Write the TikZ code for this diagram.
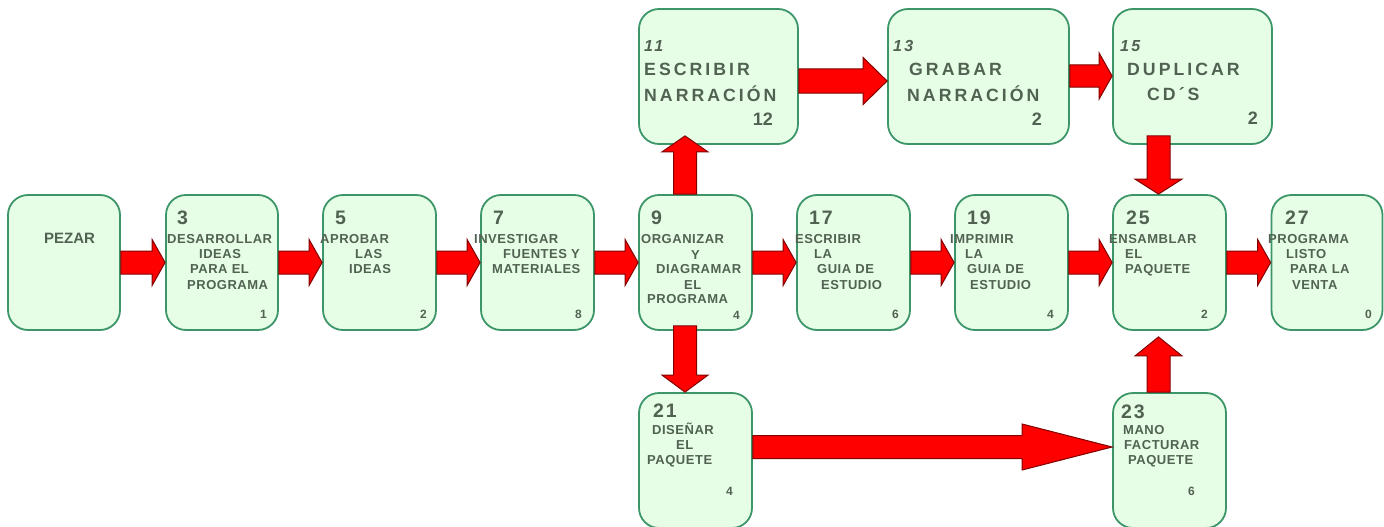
\documentclass[tikz,border=0pt]{standalone}
\usepackage{fontspec}
\setmainfont{Liberation Sans}
\newfontfamily\spacedA[LetterSpace=4]{Liberation Sans}
\newfontfamily\spacedB[LetterSpace=9]{Liberation Sans}
\newfontfamily\spacedC[LetterSpace=17]{Liberation Sans}
\newfontfamily\spacedD[LetterSpace=15]{Liberation Sans}
\usetikzlibrary{calc}

\definecolor{boxfill}{RGB}{230,253,230}
\definecolor{boxline}{RGB}{60,150,105}
\definecolor{txtcol}{RGB}{82,98,82}
\definecolor{arrfill}{RGB}{255,0,0}
\definecolor{arrline}{RGB}{130,0,0}

\tikzset{
  task/.style={draw=boxline, fill=boxfill, line width=1.8pt, rounded corners=20pt,
    minimum height=135pt, inner sep=0pt},
  blockarr/.style={draw=arrline, fill=arrfill, line width=1pt, line join=miter},
  txtline/.style={inner sep=0pt, anchor=base west, text=txtcol,
    font=\spacedA\bfseries\fontsize{13}{13}\selectfont},
  stepnum/.style={inner sep=0pt, anchor=base west, text=txtcol,
    font=\spacedB\bfseries\fontsize{19.5}{19.5}\selectfont},
  count/.style={inner sep=0pt, anchor=base east, text=txtcol,
    font=\bfseries\fontsize{12}{12}\selectfont},
  bigline/.style={inner sep=0pt, anchor=base west, text=txtcol,
    font=\spacedC\bfseries\fontsize{17.7}{17.7}\selectfont},
  topnum/.style={inner sep=0pt, anchor=base west, text=txtcol,
    font=\spacedD\bfseries\itshape\fontsize{16}{16}\selectfont},
  topcount/.style={inner sep=0pt, anchor=base east, text=txtcol,
    font=\bfseries\fontsize{18}{18}\selectfont},
}

% block arrow: tail, tip, shaft half width, head half width, head length
\newcommand\blockarrow[5]{%
  \coordinate (hb) at ($(#2)!#5!(#1)$);
  \draw[blockarr] ($(#1)!#3!90:(#2)$) -- ($(hb)!#3!-90:(#1)$) -- ($(hb)!#4!-90:(#1)$)
    -- (#2) -- ($(hb)!#4!90:(#1)$) -- ($(hb)!#3!90:(#1)$) -- ($(#1)!#3!-90:(#2)$) -- cycle;
}
% one line of text: style, name, x, baseline y, text
\newcommand\putline[5]{\node[#1] (#2) at (#3,#4) {#5};}

\begin{document}
\begin{tikzpicture}[x=1pt, y=-1pt]
\useasboundingbox (0,0) rectangle (1384,527);

% ---- activity boxes ----
\node[task, minimum width=112pt] (b1)  at (64,262.5) {};
\node[task, minimum width=112pt] (b3)  at (222,262.5) {};
\node[task, minimum width=113pt] (b5)  at (379.5,262.5) {};
\node[task, minimum width=113pt] (b7)  at (537.5,262.5) {};
\node[task, minimum width=113pt] (b9)  at (695.5,262.5) {};
\node[task, minimum width=113pt] (b17) at (853.5,262.5) {};
\node[task, minimum width=113pt] (b19) at (1011.5,262.5) {};
\node[task, minimum width=113pt] (b25) at (1169.5,262.5) {};
\node[task, minimum width=111pt] (b27) at (1327,262.5) {};
\node[task, minimum width=159pt] (b11) at (718.5,76.5) {};
\node[task, minimum width=181pt] (b13) at (978.5,76.5) {};
\node[task, minimum width=159pt] (b15) at (1192.5,76.5) {};
\node[task, minimum width=113pt] (b21) at (695.5,460.5) {};
\node[task, minimum width=113pt] (b23) at (1169.5,460.5) {};

% ---- arrows ----
\blockarrow{b1.east}{b3.west}{11.5pt}{23pt}{13pt}
\blockarrow{b3.east}{b5.west}{11.5pt}{23pt}{13pt}
\blockarrow{b5.east}{b7.west}{11.5pt}{23pt}{13pt}
\blockarrow{b7.east}{b9.west}{11.5pt}{23pt}{13pt}
\blockarrow{b9.east}{b17.west}{11.5pt}{23pt}{13pt}
\blockarrow{b17.east}{b19.west}{11.5pt}{23pt}{13pt}
\blockarrow{b19.east}{b25.west}{11.5pt}{23pt}{13pt}
\blockarrow{b25.east}{b27.west}{11.5pt}{23pt}{13pt}

\coordinate (u9)  at ($(b9.north)+(-10.5,0)$);
\coordinate (u11) at ($(u9 |- b11.south)+(0,-9)$);
\blockarrow{u9}{u11}{11.5pt}{23pt}{16pt}

\coordinate (d9)  at ($(b9.south)+(-10.5,-5)$);
\coordinate (d21) at (d9 |- b21.north);
\blockarrow{d9}{d21}{11.5pt}{23pt}{17pt}

\coordinate (r11) at ($(b11.east)+(0,4.5)$);
\coordinate (l13) at (b13.west |- r11);
\blockarrow{r11}{l13}{12pt}{23.5pt}{24pt}

\coordinate (r13) at ($(b13.east)+(0,-0.5)$);
\coordinate (l15) at (b15.west |- r13);
\blockarrow{r13}{l15}{11pt}{23pt}{13pt}

\coordinate (d15) at ($(b15.south)+(-34,-9)$);
\coordinate (t25) at (d15 |- b25.north);
\blockarrow{d15}{t25}{11.5pt}{23.5pt}{15pt}

\coordinate (r21) at ($(b21.east)+(0,-13.5)$);
\coordinate (l23) at (b23.west |- r21);
\blockarrow{r21}{l23}{11.5pt}{23pt}{90pt}

\coordinate (u23) at ($(b23.north)+(-11,0)$);
\coordinate (s25) at ($(u23 |- b25.south)+(0,6)$);
\blockarrow{u23}{s25}{11.5pt}{23.5pt}{19pt}

% ---- texts: middle row ----
\putline{txtline, font=\bfseries\fontsize{15}{15}\selectfont}{t1a}{44}{243}{PEZAR}

\putline{stepnum}{n3}{177}{224}{3}
\putline{txtline}{t3a}{167}{243}{DESARROLLAR}
\putline{txtline}{t3b}{199}{258}{IDEAS}
\putline{txtline}{t3c}{190}{273}{PARA EL}
\putline{txtline}{t3d}{187}{289}{PROGRAMA}
\putline{count}{c3}{267}{318}{1}

\putline{stepnum}{n5}{335}{224}{5}
\putline{txtline}{t5a}{320}{243}{APROBAR}
\putline{txtline}{t5b}{355}{258}{LAS}
\putline{txtline}{t5c}{349}{273}{IDEAS}
\putline{count}{c5}{427}{318}{2}

\putline{stepnum}{n7}{493}{224}{7}
\putline{txtline}{t7a}{474}{243}{INVESTIGAR}
\putline{txtline}{t7b}{503}{258}{FUENTES Y}
\putline{txtline}{t7c}{492}{273}{MATERIALES}
\putline{count}{c7}{582}{318}{8}

\putline{stepnum}{n9}{651}{224}{9}
\putline{txtline}{t9a}{641}{243}{ORGANIZAR}
\putline{txtline}{t9b}{691}{259}{Y}
\putline{txtline}{t9c}{656}{273}{DIAGRAMAR}
\putline{txtline}{t9d}{684}{289}{EL}
\putline{txtline}{t9e}{647}{303}{PROGRAMA}
\putline{count}{c9}{740}{319}{4}

\putline{stepnum}{n17}{809}{224}{17}
\putline{txtline}{t17a}{795}{243}{ESCRIBIR}
\putline{txtline}{t17b}{814}{258}{LA}
\putline{txtline}{t17c}{817}{273}{GUIA DE}
\putline{txtline}{t17d}{821}{289}{ESTUDIO}
\putline{count}{c17}{899}{318}{6}

\putline{stepnum}{n19}{967}{224}{19}
\putline{txtline}{t19a}{950}{243}{IMPRIMIR}
\putline{txtline}{t19b}{965}{258}{LA}
\putline{txtline}{t19c}{967}{273}{GUIA DE}
\putline{txtline}{t19d}{970}{289}{ESTUDIO}
\putline{count}{c19}{1054}{318}{4}

\putline{stepnum}{n25}{1126}{224}{25}
\putline{txtline}{t25a}{1109}{243}{ENSAMBLAR}
\putline{txtline}{t25b}{1125}{258}{EL}
\putline{txtline}{t25c}{1125}{273}{PAQUETE}
\putline{count}{c25}{1208}{318}{2}

\putline{stepnum}{n27}{1285}{224}{27}
\putline{txtline}{t27a}{1268}{243}{PROGRAMA}
\putline{txtline}{t27b}{1286}{258}{LISTO}
\putline{txtline}{t27c}{1290}{273}{PARA LA}
\putline{txtline}{t27d}{1292}{289}{VENTA}
\putline{count}{c27}{1372}{318}{0}

% ---- texts: top row ----
\putline{topnum}{n11}{644}{52}{11}
\putline{bigline}{t11a}{644}{76}{ESCRIBIR}
\putline{bigline}{t11b}{644}{101}{NARRACIÓN}
\putline{topcount}{c11}{773}{125}{12}

\putline{topnum}{n13}{893}{52}{13}
\putline{bigline}{t13a}{909}{76}{GRABAR}
\putline{bigline}{t13b}{907}{101}{NARRACIÓN}
\putline{topcount}{c13}{1042}{125}{2}

\putline{topnum}{n15}{1120}{52}{15}
\putline{bigline}{t15a}{1127}{76}{DUPLICAR}
\putline{bigline}{t15b}{1147}{100}{CD´S}
\putline{topcount}{c15}{1258}{124}{2}

% ---- texts: bottom row ----
\putline{stepnum}{n21}{653}{417}{21}
\putline{txtline}{t21a}{652}{434}{DISEÑAR}
\putline{txtline}{t21b}{676}{449}{EL}
\putline{txtline}{t21c}{647}{464}{PAQUETE}
\putline{count}{c21}{733}{495}{4}

\putline{stepnum}{n23}{1121}{418}{23}
\putline{txtline}{t23a}{1123}{434}{MANO}
\putline{txtline}{t23b}{1124}{449}{FACTURAR}
\putline{txtline}{t23c}{1128}{464}{PAQUETE}
\putline{count}{c23}{1195}{495}{6}
\end{tikzpicture}
\end{document}
